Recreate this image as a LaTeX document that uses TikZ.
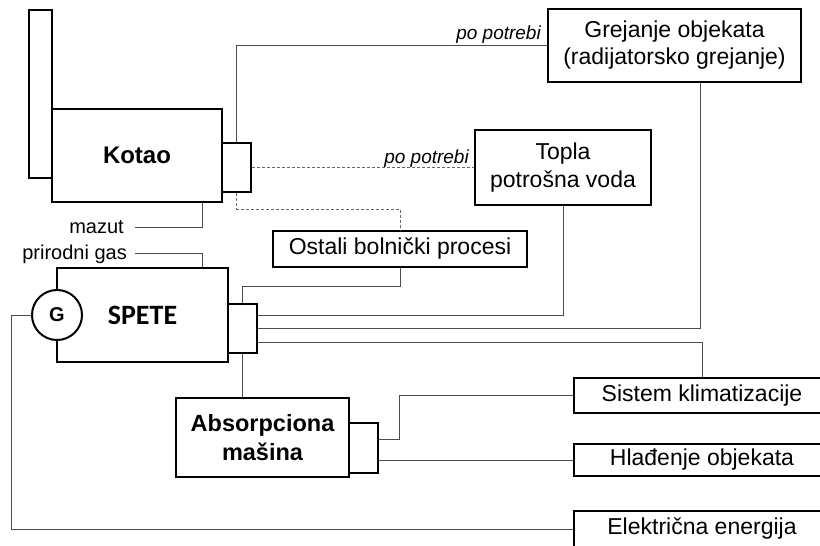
\documentclass[tikz,border=0pt]{standalone}
\usepackage{fontspec}
\setmainfont{Liberation Sans}
\newfontfamily\calib{Carlito}
\usetikzlibrary{calc}
\begin{document}
\begin{tikzpicture}[x=1pt,y=-1pt,
  thickbox/.style={draw=black,line width=2.2pt,fill=white,inner sep=0pt,rectangle},
  thinbox/.style={draw=black,line width=1.2pt,fill=white,inner sep=0pt,rectangle,align=center,
    font=\fontsize{23}{27}\selectfont},
  conn/.style={draw=black!70,line width=1pt},
  dconn/.style={draw=black!60,line width=1pt,dash pattern=on 3pt off 2pt},
  lbl/.style={inner sep=0pt,font=\fontsize{20}{24}\selectfont},
  itl/.style={inner sep=0pt,font=\fontsize{19}{23}\selectfont\itshape}]
\useasboundingbox (0,0) rectangle (820,546);
\clip (0,0) rectangle (820,546);

% connectors first (boxes drawn on top)
% Kotao block
\node[thickbox,minimum width=23,minimum height=168] (chim) at (40.5,94) {};
\node[thickbox,minimum width=170,minimum height=93,font=\fontsize{24}{28}\selectfont\bfseries] (kotao) at (137,155.5) {Kotao};
\node[thickbox,minimum width=29,minimum height=49] (kotS) at (236.5,167.5) {};

% SPETE block
\node[thickbox,minimum width=171,minimum height=94,font=\fontsize{28}{32}\selectfont\calib\bfseries] (spete) at (142.5,315) {SPETE};
\node[thickbox,minimum width=29,minimum height=49] (spS) at (242.5,328.5) {};
\node[draw=black,line width=2pt,fill=white,circle,minimum size=50,inner sep=0pt,font=\fontsize{20}{24}\selectfont\bfseries] (gen) at (57,315) {G};

% Absorpciona block
\node[thickbox,minimum width=173,minimum height=79,align=center,font=\fontsize{23.5}{29}\selectfont\bfseries] (abs) at (262.5,437.5) {Absorpciona\\mašina};
\node[thickbox,minimum width=29,minimum height=50] (absS) at (363.5,448) {};

% consumers
\node[thinbox,minimum width=253,minimum height=73] (grej) at (674.5,45.5) {Grejanje objekata\\(radijatorsko grejanje)};
\node[thinbox,minimum width=176,minimum height=75,font=\fontsize{23}{28}\selectfont] (topla) at (563,167.5) {Topla\\potrošna voda};
\node[thinbox,minimum width=254,minimum height=36] (ostali) at (400,249) {Ostali bolnički procesi};
\node[thinbox,minimum width=256,minimum height=35] (sistem) at (702,395.5) {Sistem klimatizacije};
\node[thinbox,minimum width=256,minimum height=32] (hlad) at (702,460) {Hlađenje objekata};
\node[thinbox,minimum width=256,minimum height=36] (elek) at (702,529) {Električna energija};

% labels
\node[lbl,anchor=base east] (mazut) at (124,233) {mazut};
\node[lbl,anchor=base east] (pgas) at (127,259) {prirodni gas};
\node[itl,anchor=base east] (pp1) at (541,39) {po potrebi};
\node[itl,anchor=base east] (pp2) at (469,163) {po potrebi};
\coordinate (mzend) at (135,227);
\coordinate (pgend) at (135,253);

% connectors
\draw[conn] (kotS.north) |- (grej.west);
\draw[dconn] (kotS.east) -- (topla.west);
\draw[dconn] (kotS.south) -- ++(0,16) -| (ostali.north);
\draw[conn] (mzend) -| ($(kotao.south)+(65,0)$);
\draw[conn] (pgend) -| ($(spete.north)+(59.5,0)$);
\draw[conn] (spS.north) -- ++(0,-16) -| (ostali.south);
\draw[conn] ($(spS.east)+(0,-13)$) -| (topla.south);
\draw[conn] (spS.east) -| ($(grej.south)+(25.5,0)$);
\draw[conn] ($(spS.east)+(0,13.5)$) -| (sistem.north);
\draw[conn] (spS.south) -- (spS.south |- abs.north);
\draw[conn] ($(absS.east)+(0,-9)$) -- ++(20,0) |- (sistem.west);
\draw[conn] ($(absS.east)+(0,12)$) -- (hlad.west);
\draw[conn] (gen.west) -- ++(-20,0) |- (elek.west);
\end{tikzpicture}
\end{document}
